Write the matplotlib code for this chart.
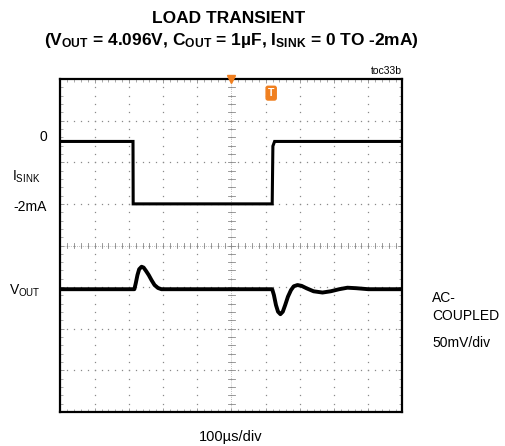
import numpy as np
import matplotlib
matplotlib.use("Agg")
import matplotlib.pyplot as plt

plt.rcParams["font.family"] = ["Liberation Sans", "DejaVu Sans"]
plt.rcParams["mathtext.default"] = "regular"

# --------------------------
# Dados lidos do osciloscópio
# --------------------------
# corrente de carga (mA) vs tempo (us)
t_isink = [0, 212, 212.5, 619, 621, 626, 1000]
i_sink = [0, 0, -2, -2, -0.15, 0, 0]

# desvio de VOUT (mV, acoplado em AC) vs tempo (us)
t_vout = [0, 216, 220, 225, 230, 237, 243, 250, 258, 266, 275, 285, 295, 310,
          400, 500, 619, 624, 630, 636, 643, 650, 657, 665, 674, 682, 693, 705,
          720, 740, 766, 790, 815, 839, 865, 900, 1000]
v_out = [0, 0, 7, 17, 24, 27, 26, 22, 17, 11, 5, 1.5, 0, 0,
         0, 0, 0, -7, -19, -27, -30, -27, -19, -9, -1, 3.5, 5, 4,
         1, -2.5, -4, -2.5, 0, 1.8, 1.2, 0, 0]

# escalas de tela (divisões)
I_POS, I_SCALE = 6.5, 2.0 / 1.5     # posição do zero e mA/div
V_POS, V_SCALE = 2.95, 50.0          # posição do zero e mV/div

W, H = 506, 446
GRID = "#8a8a8a"
ORANGE = "#f07f1f"


def px(x, y):
    return x / W, 1 - y / H


fig = plt.figure(figsize=(W / 100, H / 100), dpi=100)
ax = fig.add_axes([60.5 / W, (H - 412) / H, 342 / W, 333 / H])
ax.set_xlim(0, 1000)
ax.set_ylim(0, 8)

# grade pontilhada
for gx in range(100, 1000, 100):
    ys = np.arange(0, 8.01, 0.2)
    ax.plot([gx] * len(ys), ys, ls="none", marker="s", ms=0.9, color=GRID, mec="none")
for gy in range(1, 8):
    xs = np.arange(0, 1000.1, 20)
    ax.plot(xs, [gy] * len(xs), ls="none", marker="s", ms=0.9, color=GRID, mec="none")

# eixos centrais com marcas
ax.plot([500, 500], [0, 8], color=GRID, lw=0.5, ls=(0, (1, 2)))
ax.plot([0, 1000], [4, 4], color=GRID, lw=0.5, ls=(0, (1, 2)))
for yy in np.arange(0, 8.01, 0.2):
    ax.plot([490, 510], [yy, yy], color=GRID, lw=0.6)
for xx in np.arange(0, 1000.1, 20):
    ax.plot([xx, xx], [3.93, 4.07], color=GRID, lw=0.6)

# traços
ax.plot(t_isink, [I_POS + v / I_SCALE for v in i_sink], color="black", lw=2.2,
        solid_joinstyle="miter")
ax.plot(t_vout, [V_POS + v / V_SCALE for v in v_out], color="black", lw=2.8)

# marcadores de trigger
ax.plot([500], [8], marker="v", color=ORANGE, ms=6, clip_on=False, zorder=5)
ax.text(616, 7.66, "T", color="white", fontsize=7.5, fontweight="bold",
        ha="center", va="center",
        bbox=dict(boxstyle="round,pad=0.18", fc=ORANGE, ec=ORANGE))

ax.set_xticks(np.arange(0, 1001, 100))
ax.set_yticks(np.arange(0, 8.1, 1))
ax.set_xticks(np.arange(0, 1001, 20), minor=True)
ax.set_yticks(np.arange(0, 8.1, 0.2), minor=True)
ax.tick_params(which="both", direction="in", top=True, right=True,
               labelbottom=False, labelleft=False, color=GRID)
ax.tick_params(which="major", length=3, width=0.6)
ax.tick_params(which="minor", length=2, width=0.5)
for s in ax.spines.values():
    s.set_linewidth(1.6)

# textos
fig.text(*px(229, 18.5), "LOAD TRANSIENT", fontsize=12.5, fontweight="bold",
         ha="center", va="center")
fig.text(*px(231, 41),
         "(V$_{OUT}$ = 4.096V, C$_{OUT}$ = 1µF, I$_{SINK}$ = 0 TO -2mA)",
         fontsize=12.5, fontweight="bold", ha="center", va="center")
fig.text(*px(402, 71), "toc33b", fontsize=7.5, ha="right", va="center")

fig.text(*px(47, 137), "0", fontsize=10, ha="right", va="center")
fig.text(*px(12, 177), "I$_{SINK}$", fontsize=10, ha="left", va="center")
fig.text(*px(47, 207), "-2mA", fontsize=10, ha="right", va="center")
fig.text(*px(9, 291), "V$_{OUT}$", fontsize=10, ha="left", va="center")

fig.text(*px(432, 298), "AC-", fontsize=10, ha="left", va="center")
fig.text(*px(432, 316), "COUPLED", fontsize=10, ha="left", va="center")
fig.text(*px(432, 343), "50mV/div", fontsize=10, ha="left", va="center")

fig.text(*px(231, 437), "100µs/div", fontsize=10.5, ha="center", va="center")

fig.savefig("out.png", dpi=100)
